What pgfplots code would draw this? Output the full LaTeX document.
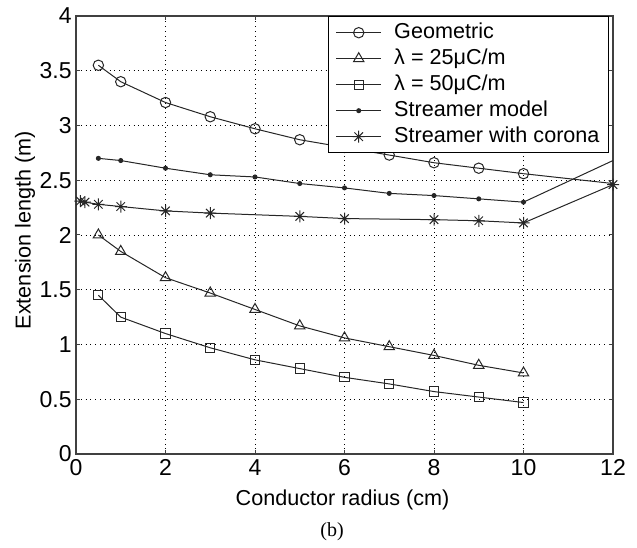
\documentclass[border=0pt]{standalone}
\usepackage{fontspec}
\setmainfont{Liberation Sans}
\newfontfamily\seriffont{Liberation Serif}
\usepackage{pgfplots}
\pgfplotsset{compat=1.18}
\usetikzlibrary{calc}

\pgfdeclareplotmark{mstar}{%
 \pgfpathmoveto{\pgfqpoint{-\pgfplotmarksize}{0pt}}\pgfpathlineto{\pgfqpoint{\pgfplotmarksize}{0pt}}%
 \pgfpathmoveto{\pgfqpoint{0pt}{-\pgfplotmarksize}}\pgfpathlineto{\pgfqpoint{0pt}{\pgfplotmarksize}}%
 \pgfpathmoveto{\pgfqpoint{-0.707\pgfplotmarksize}{-0.707\pgfplotmarksize}}\pgfpathlineto{\pgfqpoint{0.707\pgfplotmarksize}{0.707\pgfplotmarksize}}%
 \pgfpathmoveto{\pgfqpoint{-0.707\pgfplotmarksize}{0.707\pgfplotmarksize}}\pgfpathlineto{\pgfqpoint{0.707\pgfplotmarksize}{-0.707\pgfplotmarksize}}%
 \pgfusepathqstroke}

\begin{document}
\begin{tikzpicture}
\begin{axis}[name=ax,
  scale only axis, width=268.5pt, height=219pt,
  xmin=0, xmax=12, ymin=0, ymax=4,
  xtick={0,2,...,12}, ytick={0,0.5,...,4},
  grid=major, grid style={dotted, black, line width=0.4pt},
  tick align=inside, major tick length=2.2pt,
  axis line style={black!75, line width=0.7pt},
  tick style={black!75, line width=0.5pt},
  ticklabel style={font=\fontsize{11.5}{13}\selectfont},
  /pgf/number format/assume math mode=true,
  yticklabel style={inner sep=2pt},
  xticklabel style={inner sep=2.5pt},
  label style={font=\fontsize{10.8}{12}\selectfont},
  xlabel={Conductor radius (cm)},
  ylabel={Extension length (m)},
  x label style={at={(axis description cs:0.4963,-0.105)}, anchor=center},
  y label style={at={(axis description cs:-0.095,0.511)}, anchor=center},
  clip mode=individual,
  legend cell align=left,
  legend style={at={(0.9926,1)}, anchor=north east, draw=black, line width=0.5pt, fill=white,
    font=\fontsize{10.8}{12}\selectfont,
    nodes={inner sep=1pt, text height=7.8pt, text depth=2.4pt},
    row sep=0.8pt, inner xsep=3.5pt, inner ysep=2pt},
  legend image code/.code={\path[draw=none,fill=none] (0pt,0pt) -- (28pt,0pt);\draw[mark repeat=2,mark phase=2,#1] plot coordinates {(0pt,0pt) (11.25pt,0pt) (22.5pt,0pt)};},
  every axis plot/.append style={black!85, line width=0.5pt},
]
\addplot[black!85, mark=o, mark size=2.6pt, mark options={solid}] coordinates {
 (0.5,3.55)(1,3.40)(2,3.21)(3,3.08)(4,2.97)(5,2.87)(6,2.80)(7,2.73)(8,2.66)(9,2.61)(10,2.56)};
\addlegendentry{Geometric}
\addplot[black!85, mark=triangle, mark size=3pt, mark options={solid}] coordinates {
 (0.5,2.00)(1,1.85)(2,1.61)(3,1.47)(4,1.32)(5,1.17)(6,1.06)(7,0.98)(8,0.90)(9,0.81)(10,0.74)};
\addlegendentry{λ = 25μC/m}
\addplot[black!85, mark=square, mark size=2.3pt, mark options={solid}] coordinates {
 (0.5,1.45)(1,1.25)(2,1.10)(3,0.97)(4,0.86)(5,0.78)(6,0.70)(7,0.64)(8,0.57)(9,0.52)(10,0.47)};
\addlegendentry{λ = 50μC/m}
\addplot[black!85, mark=*, mark size=1pt, mark options={solid}] coordinates {
 (0.5,2.70)(1,2.68)(2,2.61)(3,2.55)(4,2.53)(5,2.47)(6,2.43)(7,2.38)(8,2.36)(9,2.33)(10,2.30)};
\addlegendentry{Streamer model}
\addplot[black!85, mark=mstar, mark size=3pt, mark options={solid}] coordinates {
 (0.1,2.31)(0.2,2.30)(0.5,2.28)(1,2.26)(2,2.22)(3,2.20)(5,2.17)(6,2.15)(8,2.14)(9,2.13)(10,2.11)(12,2.46)};
\addlegendentry{Streamer with corona}
\addplot[black!85, no marks, forget plot] coordinates {(10,2.56)(12,2.47)};
\addplot[black!85, no marks, forget plot] coordinates {(10,2.30)(12,2.68)};
\end{axis}
\path ($(ax.south west)+(-38pt,-44.5pt)$) rectangle ($(ax.north east)+(12pt,8pt)$);
\node[font=\seriffont\fontsize{10}{12}\selectfont] at ($(ax.south west)+(128pt,-39pt)$) {(b)};
\end{tikzpicture}
\end{document}
